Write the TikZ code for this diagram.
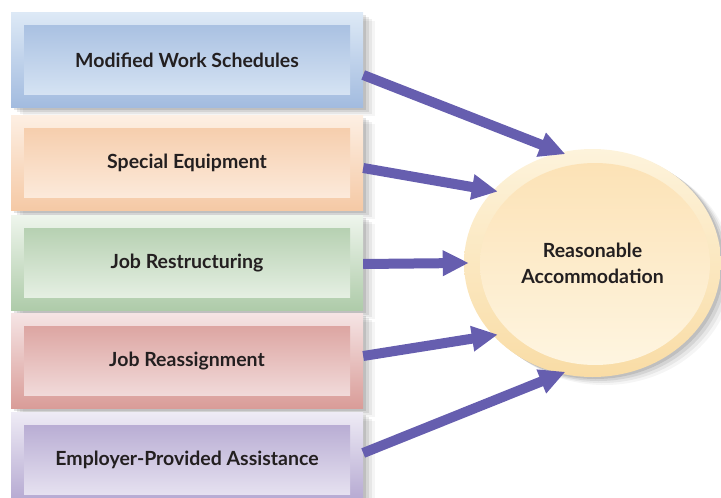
\documentclass[tikz,border=0pt]{standalone}
\usepackage{fontspec}
\setmainfont{Lato}
\usepackage{xcolor}
\usetikzlibrary{arrows.meta,shadows,shapes.geometric}

\definecolor{blueD}{HTML}{A2BBDF}
\definecolor{blueL}{HTML}{DDE9F6}
\definecolor{orngD}{HTML}{F5C9A5}
\definecolor{orngL}{HTML}{FDEFE3}
\definecolor{grenD}{HTML}{AECBA9}
\definecolor{grenL}{HTML}{EEF5EC}
\definecolor{redD}{HTML}{D99C98}
\definecolor{redL}{HTML}{F5E4E4}
\definecolor{purpD}{HTML}{B1A4CF}
\definecolor{purpL}{HTML}{EEEBF5}
\definecolor{accL}{HTML}{FDF3DB}
\definecolor{accD}{HTML}{F9DCA5}
\definecolor{accIn}{HTML}{FCE1B3}
\definecolor{accInL}{HTML}{FEF6E3}
\definecolor{arrowC}{HTML}{665EAF}
\definecolor{txt}{HTML}{231F20}

\begin{document}
\begin{tikzpicture}[
  x=1pt, y=-1pt,
  font=\bfseries\fontsize{19.5}{26}\selectfont, text=txt,
  soft shadow/.style={
    drop shadow={shadow xshift=3pt, shadow yshift=-2pt, fill=black, opacity=.10},
    drop shadow={shadow xshift=6pt, shadow yshift=-4pt, fill=black, opacity=.08},
    drop shadow={shadow xshift=9pt, shadow yshift=-6pt, fill=black, opacity=.06},
    drop shadow={shadow xshift=12pt, shadow yshift=-8pt, fill=black, opacity=.04}},
  item/.style 2 args={rectangle, inner sep=0pt,
    minimum width=352pt, minimum height=95pt,
    top color=#1, bottom color=#2, soft shadow,
    path picture={\shade[top color=#2, bottom color=#1]
      ([xshift=13pt,yshift=-13pt]path picture bounding box.north west) rectangle
      ([xshift=-13pt,yshift=13pt]path picture bounding box.south east);}},
  goal/.style={ellipse, inner sep=0pt, align=center,
    minimum width=257pt, minimum height=228pt,
    top color=accL, bottom color=accD, soft shadow,
    path picture={\shade[top color=accIn, bottom color=accInL]
      ([xshift=2.5pt,yshift=-1pt]path picture bounding box.center)
      ellipse [x radius=115pt, y radius=101pt];}},
  link/.style={line width=10pt, draw=arrowC, shorten >=-5pt,
    -{Triangle[width=24pt, length=26pt]}},
]
\useasboundingbox (0,0) rectangle (721,498);

\node[item={blueL}{blueD}] (sched)  at (187,60)  {Modified Work Schedules};
\node[item={orngL}{orngD}] (equip)  at (187,163) {Special Equipment};
\node[item={grenL}{grenD}] (restr)  at (187,263) {Job Restructuring};
\node[item={redL}{redD}]   (reass)  at (187,361) {Job Reassignment};
\node[item={purpL}{purpD}] (assist) at (187,460) {Employer-Provided Assistance};

\node[goal] (accom) at (592.5,263) {Reasonable\\Accommodation};

\draw[link] ([yshift=-15pt]sched.east) -- (accom.106);
\draw[link] ([yshift=-5pt]equip.east)  -- (accom.144);
\draw[link] ([yshift=-1pt]restr.east)  -- (accom.180);
\draw[link] ([yshift=5pt]reass.east)   -- (accom.216);
\draw[link] ([yshift=7pt]assist.east)  -- (accom.254);
\end{tikzpicture}
\end{document}
